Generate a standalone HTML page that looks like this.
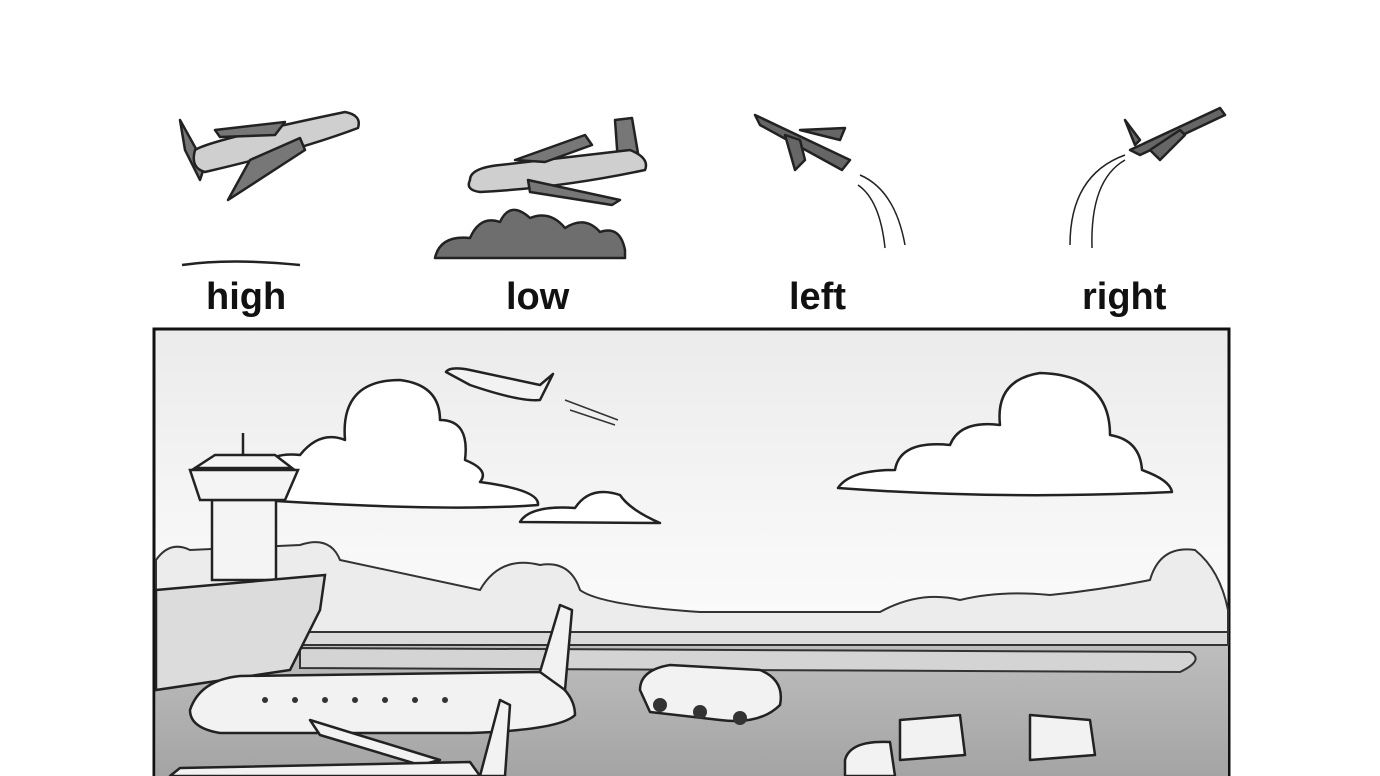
<!DOCTYPE html>
<html><head><meta charset="utf-8"><style>
html,body{margin:0;padding:0;background:#fff;width:1380px;height:776px;overflow:hidden}
.lbl{position:absolute;font-family:"Liberation Sans",sans-serif;font-weight:bold;font-size:38px;color:#111;top:276px}
</style></head><body>
<div class="lbl" style="left:206px">high</div>
<div class="lbl" style="left:506px">low</div>
<div class="lbl" style="left:789px">left</div>
<div class="lbl" style="left:1082px">right</div>
<svg width="1380" height="776" style="position:absolute;left:0;top:0">
<defs>
<linearGradient id="sky" x1="0" y1="0" x2="0" y2="1">
<stop offset="0" stop-color="#ebebeb"/><stop offset="0.5" stop-color="#f8f8f8"/><stop offset="1" stop-color="#ffffff"/></linearGradient>
<linearGradient id="gr" x1="0" y1="0" x2="0" y2="1">
<stop offset="0" stop-color="#c0c0c0"/><stop offset="1" stop-color="#a4a4a4"/></linearGradient>
</defs>
<g stroke="#222" stroke-width="2.5" stroke-linejoin="round">
<path d="M180 120 L205 165 L200 180 L185 150 Z" fill="#777"/>
<path d="M195 150 Q210 140 345 112 Q362 115 358 128 Q300 150 205 172 Q190 168 195 150Z" fill="#cfcfcf"/>
<path d="M215 130 L285 122 L275 135 L220 137Z" fill="#777"/>
<path d="M250 160 L300 138 L305 150 L228 200 Z" fill="#777"/>
<path d="M182 265 Q230 258 300 265" fill="none"/>
<path d="M615 120 L632 118 L640 165 L618 162Z" fill="#777"/>
<path d="M470 180 Q470 168 500 165 L630 150 Q650 158 645 170 Q560 188 480 192 Q465 190 470 180Z" fill="#cfcfcf"/>
<path d="M515 160 L585 135 L592 145 L545 162Z" fill="#777"/>
<path d="M528 180 L620 200 L612 205 L530 192Z" fill="#777"/>
<path d="M435 258 Q440 235 470 238 Q480 215 500 222 Q510 200 530 218 Q550 210 565 228 Q585 215 600 232 Q620 225 625 250 L625 258Z" fill="#6e6e6e"/>
<path d="M755 115 L850 160 L842 170 L760 125Z" fill="#666"/>
<path d="M785 135 L795 170 L805 160 L800 140Z" fill="#666"/>
<path d="M800 130 L845 128 L840 140 Z" fill="#666"/>
<path d="M860 175 Q895 190 905 245 M858 185 Q880 200 885 248" fill="none" stroke-width="1.5"/>
<path d="M1130 150 L1220 108 L1225 115 L1140 155Z" fill="#666"/>
<path d="M1150 150 L1180 130 L1185 135 L1160 160Z" fill="#666"/>
<path d="M1125 120 L1140 140 L1135 145Z" fill="#666"/>
<path d="M1125 155 Q1070 175 1070 245 M1125 160 Q1090 180 1092 248" fill="none" stroke-width="1.5"/>
</g>
<rect x="154" y="329" width="1075" height="460" fill="url(#sky)" stroke="#111" stroke-width="3"/>
<g stroke="#222" stroke-width="2.5" fill="#fff" stroke-linejoin="round">
<path d="M260 500 Q250 450 300 455 Q320 430 345 440 Q340 380 400 380 Q440 385 440 420 Q470 420 465 460 Q490 470 480 482 Q540 490 538 505 Q450 512 260 500Z"/>
<path d="M520 522 Q530 505 575 508 Q590 485 620 495 Q630 510 660 523Z"/>
<path d="M838 488 Q850 470 895 470 Q900 440 950 445 Q960 420 1000 425 Q995 380 1040 373 Q1110 375 1110 435 Q1140 440 1142 470 Q1170 480 1172 492 Q1000 500 838 488Z"/>
</g>
<path d="M156 560 Q170 540 190 550 L300 545 Q330 535 340 560 L480 590 Q500 555 540 565 Q570 560 580 590 Q600 605 700 612 L880 612 Q920 590 960 600 Q1000 590 1050 595 Q1100 590 1150 580 Q1160 545 1195 550 Q1220 570 1228 610 L1228 640 L156 640Z" fill="#ececec" stroke="#333" stroke-width="2"/>
<rect x="156" y="632" width="1072" height="144" fill="url(#gr)"/>
<path d="M300 632 L1228 632 L1228 645 L300 645Z" fill="#dadada" stroke="#333" stroke-width="2"/>
<path d="M300 648 L1190 652 Q1205 660 1180 672 L300 668Z" fill="#d4d4d4" stroke="#333" stroke-width="2"/>
<g stroke="#222" stroke-width="2.5" fill="#f4f4f4">
<path d="M212 500 L276 500 L276 580 L212 580Z"/>
<path d="M190 470 L298 470 L285 500 L200 500Z"/>
<path d="M215 455 L275 455 L292 468 L195 468Z"/>
<line x1="243" y1="433" x2="243" y2="455"/>
<path d="M156 590 L325 575 L320 610 L290 670 L156 690Z" fill="#dcdcdc"/>
</g>
<g stroke="#222" stroke-width="2.5" fill="#f2f2f2" stroke-linejoin="round">
<path d="M190 710 Q200 680 240 676 L540 672 Q575 690 575 715 Q560 730 470 733 L220 733 Q190 728 190 710Z"/>
<path d="M540 672 L560 605 L572 610 L565 690Z"/>
<path d="M310 720 L440 760 L420 765 L320 735Z"/>
<path d="M180 768 L470 762 L480 776 L170 776Z"/>
<path d="M480 776 L500 700 L510 705 L505 776Z"/>
<path d="M446 372 Q450 366 470 370 L540 385 L553 374 L540 400 Q520 402 470 385Z"/>
<path d="M640 690 Q640 670 670 665 L760 670 Q785 680 780 705 Q760 725 720 720 L650 712Z"/>
<path d="M900 720 L960 715 L965 755 L900 760Z"/>
<path d="M1030 715 L1090 720 L1095 755 L1030 760Z"/>
<path d="M845 760 Q850 740 890 742 L895 776 L845 776Z"/>
</g>
<g fill="#333">
<circle cx="265" cy="700" r="3"/><circle cx="295" cy="700" r="3"/><circle cx="325" cy="700" r="3"/><circle cx="355" cy="700" r="3"/><circle cx="385" cy="700" r="3"/><circle cx="415" cy="700" r="3"/><circle cx="445" cy="700" r="3"/>
<circle cx="660" cy="705" r="7"/><circle cx="700" cy="712" r="7"/><circle cx="740" cy="718" r="7"/>
</g>
<path d="M565 400 L618 420 M570 410 L615 425" stroke="#333" stroke-width="1.5"/>
</svg>
</body></html>
